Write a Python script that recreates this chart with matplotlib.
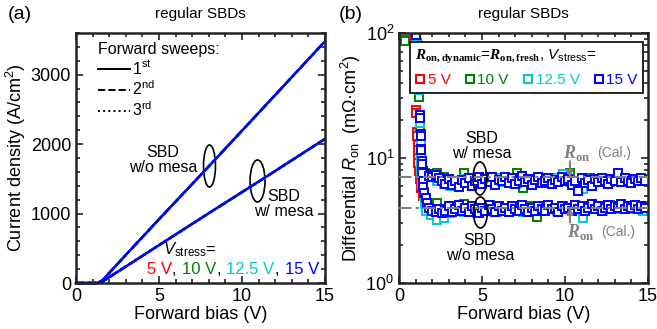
import numpy as np
import matplotlib
matplotlib.use('Agg')
import matplotlib.pyplot as plt
from matplotlib.lines import Line2D
from matplotlib.patches import Ellipse
from matplotlib.offsetbox import TextArea, HPacker, AnchoredOffsetbox
from matplotlib.ticker import MultipleLocator, NullFormatter

plt.rcParams['font.family'] = 'Liberation Sans'
plt.rcParams['mathtext.fontset'] = 'custom'
plt.rcParams['mathtext.rm'] = 'Liberation Sans'
plt.rcParams['mathtext.it'] = 'Liberation Sans:italic'
plt.rcParams['mathtext.bf'] = 'Liberation Serif:bold'
plt.rcParams['mathtext.bfit'] = 'Liberation Serif:italic:bold'

stress_labels = ['5 V', '10 V', '12.5 V', '15 V']
stress_colors = ['#ff0000', '#008000', '#00cccc', '#0000ff']
sweep_labels = ['1$^{\\mathdefault{st}}$', '2$^{\\mathdefault{nd}}$', '3$^{\\mathdefault{rd}}$']
sweep_styles = ['-', '--', ':']

# (a) J-V, same for every stress and sweep
v_iv = [0, 1.3, 1.6, 2.0, 3.0, 5.0, 8.0, 11.0, 15.0]
j_wo_mesa = [0, 0, 40, 145, 405, 918, 1680, 2450, 3480]
j_w_mesa = [0, 0, 23, 84, 237, 545, 1005, 1460, 2075]

# (b) differential Ron, knee region (per stress: red, green, cyan, blue)
knee_v = [
    [0.95, 0.97, 1.02, 1.07, 1.12, 1.17, 1.22, 1.28, 1.35, 1.45, 1.55, 1.65],
    [0.38, 1.1, 1.12, 1.2, 1.25, 1.3, 1.34, 1.4, 1.48, 1.56, 1.65],
    [1.0, 1.2, 1.25, 1.3, 1.32, 1.35, 1.4, 1.48, 1.56, 1.65],
    [1.0, 1.2, 1.25, 1.3, 1.33, 1.36, 1.38, 1.42, 1.47, 1.53, 1.6, 1.7],
]
knee_r_w = [
    [96, 41, 24, 16, 12.8, 10.5, 8.8, 8.0, 7.6, 7.4, 7.5, 7.3],
    [88, 83, 78, 32, 19, 13, 9.5, 8.0, 7.5, 7.6, 7.4],
    [95, 36, 20, 14, 10.4, 8.5, 7.6, 7.3, 7.4, 7.2],
    [98, 40, 22, 15.5, 11.8, 9.5, 8.2, 7.8, 7.5, 7.3, 7.4, 7.2],
]
knee_r_wo = [
    [92, 40, 23, 15, 11.5, 9.2, 7.8, 6.8, 5.8, 5.0, 4.4, 4.1],
    [86, 80, 75, 31, 18, 12, 8.5, 6.5, 5.3, 4.6, 4.2],
    [93, 35, 19, 13, 10, 7.8, 6.2, 5.0, 4.3, 3.8],
    [97, 39, 21, 15, 11.5, 9.0, 7.6, 6.6, 5.9, 5.2, 4.76, 4.35],
]

# plateau: red/green/cyan every 0.4 V, blue every 0.2 V
v_coarse = np.round(np.arange(1.9, 14.71, 0.4), 2)
v_fine = np.round(np.arange(1.8, 14.81, 0.2), 2)
r_w_mesa = [
    [7.5, 7.3, 6.9, 6.6, 6.4, 6.8, 6.5, 6.7, 6.6, 6.9, 6.5, 6.7, 6.6, 6.8, 6.4, 6.7, 6.6,
     6.8, 6.5, 6.7, 6.6, 6.9, 6.5, 6.6, 6.8, 6.5, 6.7, 6.6, 6.8, 6.6, 6.7, 6.6, 6.8],
    [7.3, 7.6, 7.0, 6.2, 6.0, 7.6, 6.8, 6.3, 6.6, 7.0, 6.4, 6.8, 6.5, 7.6, 5.8, 6.7, 6.4,
     6.9, 6.3, 6.6, 6.8, 7.6, 6.5, 6.3, 6.9, 6.6, 6.7, 6.4, 6.8, 6.5, 6.7, 6.6, 6.8],
    [7.0, 6.6, 6.2, 6.0, 6.4, 6.8, 6.6, 6.3, 6.7, 6.5, 6.9, 6.4, 6.6, 6.2, 6.8, 6.5, 6.7,
     6.3, 6.6, 6.9, 7.5, 6.4, 6.6, 5.6, 6.7, 6.4, 6.8, 6.6, 6.5, 6.7, 6.4, 6.7, 6.6],
    [7.2, 7.0, 7.3, 6.9, 6.6, 6.2, 6.8, 6.1, 6.5, 5.9, 6.7, 6.3, 6.9, 6.0, 6.6, 7.1, 6.2,
     6.8, 6.4, 7.0, 6.1, 6.7, 6.5, 7.1, 6.3, 6.9, 6.2, 6.6, 7.2, 6.4, 6.8, 6.1, 6.7, 7.0,
     6.3, 6.6, 6.9, 6.2, 6.7, 6.4, 7.0, 6.5, 6.8, 6.1, 6.6, 5.4, 6.9, 6.3, 6.7, 6.0, 6.8,
     6.4, 6.9, 6.5, 6.2, 6.8, 6.5, 7.6, 6.4, 6.9, 6.6, 6.3, 6.8, 6.5, 6.9, 6.6],
]
r_wo_mesa = [
    [3.9, 3.8, 3.8, 3.9, 4.0, 3.9, 4.0, 3.9, 4.0, 3.9, 4.0, 3.9, 4.0, 4.0, 3.9, 4.0, 4.0,
     3.9, 4.0, 4.0, 3.9, 4.0, 4.0, 4.0, 3.9, 4.0, 4.0, 4.1, 4.0, 4.0, 4.0, 4.1, 4.0],
    [4.0, 4.4, 3.9, 3.8, 4.1, 4.3, 4.0, 3.9, 4.0, 4.2, 3.9, 4.0, 3.8, 3.9, 4.0, 4.1, 3.4,
     4.0, 3.9, 4.0, 4.1, 3.9, 4.0, 4.0, 3.9, 4.1, 4.0, 4.2, 4.0, 3.9, 4.1, 4.0, 4.1],
    [3.5, 3.2, 3.3, 3.6, 3.8, 3.7, 3.9, 3.6, 3.8, 4.0, 3.7, 3.9, 3.8, 4.0, 3.7, 3.9, 3.8,
     4.0, 3.9, 3.8, 4.0, 3.9, 4.1, 3.3, 3.9, 4.0, 3.8, 4.1, 3.9, 4.0, 3.9, 4.1, 3.8],
    [4.0, 3.8, 3.7, 3.9, 3.6, 3.8, 4.1, 3.7, 3.9, 4.2, 3.8, 4.0, 3.7, 4.1, 3.9, 3.6, 4.0,
     3.8, 4.2, 3.9, 3.7, 4.1, 3.8, 4.0, 3.7, 4.1, 3.9, 3.8, 4.2, 3.9, 3.7, 4.0, 3.8, 4.1,
     3.9, 3.8, 4.2, 3.9, 4.0, 3.7, 4.1, 3.9, 4.0, 3.8, 4.2, 3.9, 4.1, 3.8, 4.0, 4.3, 3.9,
     4.1, 3.8, 4.0, 4.2, 3.9, 4.1, 4.0, 4.3, 3.9, 4.1, 4.0, 4.2, 3.9, 4.1, 4.0],
]
ron_cal = [7.0, 4.0]

fig = plt.figure(figsize=(6.57, 3.29), dpi=100)
ax1 = fig.add_axes([0.1157, 0.1398, 0.379, 0.760])
ax2 = fig.add_axes([0.6073, 0.1398, 0.379, 0.760])

for ax in (ax1, ax2):
    for s in ax.spines.values():
        s.set_linewidth(1.8)
        s.set_color('#222222')
    ax.tick_params(which='both', direction='in', top=True, right=True,
                   width=1.2, labelsize=13, color='#222222')
    ax.tick_params(which='major', length=5)
    ax.tick_params(which='minor', length=3)
    ax.set_xlim(0, 15)
    ax.xaxis.set_major_locator(MultipleLocator(5))
    ax.xaxis.set_minor_locator(MultipleLocator(1))
    ax.set_xlabel('Forward bias (V)', fontsize=13, labelpad=1)
    ax.set_title('regular SBDs', fontsize=11, pad=11)

# ---- (a)
for c in stress_colors:
    for ls in sweep_styles[::-1]:
        ax1.plot(v_iv, j_wo_mesa, color=c, ls=ls, lw=1.6, clip_on=False)
        ax1.plot(v_iv, j_w_mesa, color=c, ls=ls, lw=1.6, clip_on=False)
ax1.set_ylim(0, 3600)
ax1.yaxis.set_major_locator(MultipleLocator(1000))
ax1.yaxis.set_minor_locator(MultipleLocator(200))
ax1.set_ylabel('Current density (A/cm$^2$)', fontsize=13, labelpad=2)

handles = [Line2D([], [], color='k', ls=ls, lw=1.4) for ls in sweep_styles]
leg = ax1.legend(handles, sweep_labels, title='Forward sweeps:', loc='upper left',
                 bbox_to_anchor=(0.09, 0.965), frameon=False, alignment='left',
                 handlelength=2.0, handletextpad=0.1, labelspacing=0.15,
                 fontsize=11.5, title_fontsize=11.5, borderpad=0, borderaxespad=0)

ax1.add_patch(Ellipse((0.536, 0.468), 0.048, 0.168, transform=ax1.transAxes,
                      fill=False, lw=1.2, ec='k'))
ax1.add_patch(Ellipse((0.729, 0.408), 0.06, 0.168, transform=ax1.transAxes,
                      fill=False, lw=1.2, ec='k'))
ax1.text(0.349, 0.492, 'SBD\nw/o mesa', transform=ax1.transAxes, ha='center',
         va='center', fontsize=11.5, linespacing=1.05)
ax1.text(0.835, 0.316, 'SBD\nw/ mesa', transform=ax1.transAxes, ha='center',
         va='center', fontsize=11.5, linespacing=1.05)
ax1.text(0.349, 0.132, '$\\mathit{V}_{\\mathdefault{stress}}$=', transform=ax1.transAxes,
         ha='left', va='center', fontsize=12)

groups = []
for i, (lab, c) in enumerate(zip(stress_labels, stress_colors)):
    parts = [TextArea(lab, textprops=dict(color=c, size=12))]
    if i < len(stress_labels) - 1:
        parts.append(TextArea(',', textprops=dict(color='k', size=12)))
    groups.append(HPacker(children=parts, sep=0, pad=0))
row = HPacker(children=groups, sep=4, pad=0)
ax1.add_artist(AnchoredOffsetbox(loc='lower right', child=row, pad=0, borderpad=0,
                                 frameon=False, bbox_to_anchor=(0.975, 0.025),
                                 bbox_transform=ax1.transAxes))

# ---- (b)
for i, c in enumerate(stress_colors):
    vp = v_fine if i == 3 else v_coarse
    kw = dict(ls='none', marker='s', ms=5.3, mew=1.4, mec=c, mfc='white')
    ax2.plot(knee_v[i], knee_r_w[i], **kw)
    ax2.plot(knee_v[i], knee_r_wo[i], **kw)
    ax2.plot(vp, r_w_mesa[i], **kw)
    ax2.plot(vp, r_wo_mesa[i], **kw)

for r in ron_cal:
    ax2.axhline(r, color='#808080', ls='-.', lw=1.5, dashes=(6, 2, 1.5, 2), zorder=5)

ax2.set_yscale('log')
ax2.set_ylim(1, 100)
ax2.yaxis.set_minor_formatter(NullFormatter())
ax2.set_ylabel('Differential $\\mathit{R}_{\\mathdefault{on}}$  (m\u03a9\u00b7cm$^2$)',
               fontsize=13, labelpad=2)

ron_txt = '$\\mathbfit{R}_{\\mathbf{on}}$'
ax2.annotate('', xy=(10.3, ron_cal[0]), xytext=(10.3, 9.4),
             arrowprops=dict(arrowstyle='-|>', color='#808080', lw=1.5,
                             mutation_scale=9, shrinkA=0, shrinkB=0), zorder=6)
ax2.annotate('', xy=(10.3, ron_cal[1]), xytext=(10.3, 3.05),
             arrowprops=dict(arrowstyle='-|>', color='#808080', lw=1.5,
                             mutation_scale=9, shrinkA=0, shrinkB=0), zorder=6)
ax2.text(9.85, 11.0, ron_txt, color='#808080', fontsize=13, ha='left', va='center')
ax2.text(11.95, 11.0, '(Cal.)', color='#808080', fontsize=10, ha='left', va='center')
ax2.text(10.1, 2.55, ron_txt, color='#808080', fontsize=13, ha='left', va='center')
ax2.text(12.2, 2.55, '(Cal.)', color='#808080', fontsize=10, ha='left', va='center')

ax2.add_patch(Ellipse((0.325, 0.418), 0.056, 0.132, transform=ax2.transAxes,
                      fill=False, lw=1.2, ec='k', zorder=7))
ax2.add_patch(Ellipse((0.327, 0.282), 0.056, 0.124, transform=ax2.transAxes,
                      fill=False, lw=1.2, ec='k', zorder=7))
ax2.text(0.333, 0.548, 'SBD\nw/ mesa', transform=ax2.transAxes, ha='center',
         va='center', fontsize=11.5, linespacing=1.05)
ax2.text(0.325, 0.14, 'SBD\nw/o mesa', transform=ax2.transAxes, ha='center',
         va='center', fontsize=11.5, linespacing=1.05)

leg_handles = [Line2D([], [], ls='none', marker='s', ms=5.5, mew=1.5, mec=c, mfc='white')
               for c in stress_colors]
leg_title = ('$\\mathbfit{R}_{\\mathbf{on,dynamic}}$=$\\mathbfit{R}_{\\mathbf{on,fresh}}$, '
             '$\\mathit{V}_{\\mathdefault{stress}}$=')
leg2 = ax2.legend(leg_handles, stress_labels, title=leg_title, ncol=4, loc='upper right',
                  bbox_to_anchor=(0.98, 0.964), fontsize=11, title_fontsize=11,
                  handlelength=0.7, handletextpad=0.15, columnspacing=0.9,
                  borderpad=0.35, borderaxespad=0, fancybox=False, alignment='left',
                  framealpha=1)
leg2.get_frame().set_edgecolor('k')
leg2.get_frame().set_linewidth(1.2)
for t, c in zip(leg2.get_texts(), stress_colors):
    t.set_color(c)

fig.text(0.012, 0.955, '(a)', fontsize=14, va='center')
fig.text(0.515, 0.955, '(b)', fontsize=14, va='center')

fig.savefig('out.png', dpi=100)
